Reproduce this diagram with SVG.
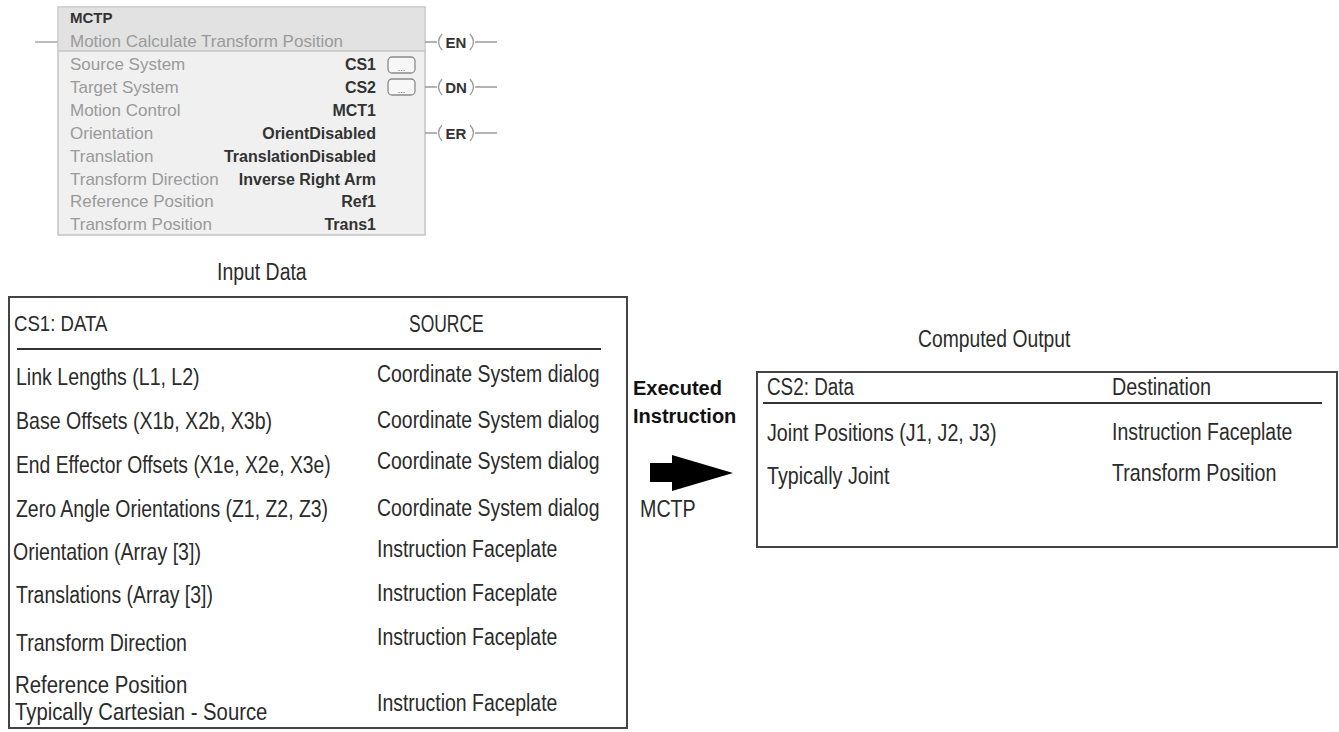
<svg xmlns="http://www.w3.org/2000/svg" width="1339" height="732" viewBox="0 0 1339 732">
<style>
.lbl{font-family:"Liberation Sans",Arial,sans-serif;font-size:17px;fill:#9a9a9a}
.val{font-family:"Liberation Sans",Arial,sans-serif;font-size:16px;font-weight:bold;fill:#333;text-anchor:end}
.coil{font-family:"Liberation Sans",Arial,sans-serif;font-size:15px;font-weight:bold;fill:#333;text-anchor:middle}
.cn{font-family:"Liberation Sans Narrow","Arial Narrow","Liberation Sans",Arial,sans-serif;font-size:24px;fill:#2b2b2b}
.hd{font-family:"Liberation Sans Narrow","Arial Narrow","Liberation Sans",Arial,sans-serif;font-size:23px;fill:#2b2b2b}
.bx{fill:#fff;stroke:#444;stroke-width:2}
.rule{stroke:#333;stroke-width:2}
.wire{stroke:#9a9a9a;stroke-width:1.3;fill:none}
.btn{fill:#f7f7f7;stroke:#8a8a8a;stroke-width:1.3}
.ex{font-family:"Liberation Sans",Arial,sans-serif;font-size:20px;font-weight:bold;fill:#111}
</style>
<rect width="1339" height="732" fill="#fff"/>

<g id="mctp-block">
  <line class="wire" x1="35" y1="42" x2="58" y2="42"/>
  <rect x="58" y="7" width="367" height="228" fill="#f0f0f0" stroke="#c4c4c4" stroke-width="1.5"/>
  <rect x="58.75" y="7.75" width="365.5" height="43.25" fill="#e2e2e2"/>
  <line x1="58" y1="51" x2="425" y2="51" stroke="#c4c4c4" stroke-width="1.5"/>
  <text x="70" y="23" font-family="Liberation Sans,Arial,sans-serif" font-size="15" font-weight="bold" fill="#333">MCTP</text>
  <text class="lbl" x="70" y="47">Motion Calculate Transform Position</text>
  <text class="lbl" x="70" y="70">Source System</text>
  <text class="lbl" x="70" y="93">Target System</text>
  <text class="lbl" x="70" y="116">Motion Control</text>
  <text class="lbl" x="70" y="139">Orientation</text>
  <text class="lbl" x="70" y="162">Translation</text>
  <text class="lbl" x="70" y="185">Transform Direction</text>
  <text class="lbl" x="70" y="207">Reference Position</text>
  <text class="lbl" x="70" y="230">Transform Position</text>
  <text class="val" x="376" y="70">CS1</text>
  <text class="val" x="376" y="93">CS2</text>
  <text class="val" x="376" y="116">MCT1</text>
  <text class="val" x="376" y="139">OrientDisabled</text>
  <text class="val" x="376" y="162">TranslationDisabled</text>
  <text class="val" x="376" y="185">Inverse Right Arm</text>
  <text class="val" x="376" y="207">Ref1</text>
  <text class="val" x="376" y="230">Trans1</text>
  <rect class="btn" x="388" y="57" width="27" height="16" rx="4"/>
  <text x="401.5" y="71" font-family="Liberation Sans,Arial,sans-serif" font-size="9" fill="#555" text-anchor="middle">...</text>
  <rect class="btn" x="388" y="79" width="27" height="16" rx="4"/>
  <text x="401.5" y="93" font-family="Liberation Sans,Arial,sans-serif" font-size="9" fill="#555" text-anchor="middle">...</text>
</g>

<g id="coil-en">
  <path class="wire" d="M425 42H437M442 34Q435 42 442 50M470 34Q477 42 470 50M475 42H497"/>
  <text class="coil" x="456" y="47.5">EN</text>
</g>
<g id="coil-dn">
  <path class="wire" d="M425 87H437M442 79Q435 87 442 95M470 79Q477 87 470 95M475 87H497"/>
  <text class="coil" x="456" y="92.5">DN</text>
</g>
<g id="coil-er">
  <path class="wire" d="M425 133H437M442 125Q435 133 442 141M470 125Q477 133 470 141M475 133H497"/>
  <text class="coil" x="456" y="138.5">ER</text>
</g>

<g id="input-data">
  <text class="cn" transform="translate(217 280) scale(0.81 1)">Input Data</text>
  <rect class="bx" x="9" y="297" width="618" height="431"/>
  <text class="hd" transform="translate(14 331) scale(0.81 1)">CS1: DATA</text>
  <text class="hd" transform="translate(409 332) scale(0.76 1)">SOURCE</text>
  <line class="rule" x1="17" y1="349" x2="601" y2="349"/>
  <text class="cn" transform="translate(16 385) scale(0.815 1)">Link Lengths (L1, L2)</text>
  <text class="cn" transform="translate(16 429) scale(0.815 1)">Base Offsets (X1b, X2b, X3b)</text>
  <text class="cn" transform="translate(16 473) scale(0.805 1)">End Effector Offsets (X1e, X2e, X3e)</text>
  <text class="cn" transform="translate(16 517) scale(0.81 1)">Zero Angle Orientations (Z1, Z2, Z3)</text>
  <text class="cn" transform="translate(13 560) scale(0.815 1)">Orientation (Array [3])</text>
  <text class="cn" transform="translate(16 603) scale(0.81 1)">Translations (Array [3])</text>
  <text class="cn" transform="translate(16 651) scale(0.815 1)">Transform Direction</text>
  <text class="cn" transform="translate(15 693) scale(0.85 1)" font-size="23">Reference Position</text>
  <text class="cn" transform="translate(15 720) scale(0.845 1)" font-size="23">Typically Cartesian - Source</text>
  <text class="cn" transform="translate(377 382) scale(0.81 1)">Coordinate System dialog</text>
  <text class="cn" transform="translate(377 428) scale(0.81 1)">Coordinate System dialog</text>
  <text class="cn" transform="translate(377 469) scale(0.81 1)">Coordinate System dialog</text>
  <text class="cn" transform="translate(377 516) scale(0.81 1)">Coordinate System dialog</text>
  <text class="cn" transform="translate(377 557) scale(0.81 1)">Instruction Faceplate</text>
  <text class="cn" transform="translate(377 601) scale(0.81 1)">Instruction Faceplate</text>
  <text class="cn" transform="translate(377 645) scale(0.81 1)">Instruction Faceplate</text>
  <text class="cn" transform="translate(377 711) scale(0.81 1)">Instruction Faceplate</text>
</g>

<g id="executed-instruction">
  <text class="ex" x="633" y="395">Executed</text>
  <text class="ex" x="633" y="423">Instruction</text>
  <polygon points="650,463 672,463 672,455 733,473 672,491 672,482 650,482" fill="#000"/>
  <text class="cn" transform="translate(640 517) scale(0.82 1)" font-size="22">MCTP</text>
</g>

<g id="computed-output">
  <text class="cn" transform="translate(918 347) scale(0.805 1)">Computed Output</text>
  <rect class="bx" x="757" y="372" width="580" height="175"/>
  <text class="hd" transform="translate(767 395) scale(0.82 1)">CS2: Data</text>
  <text class="hd" transform="translate(1112 395) scale(0.86 1)">Destination</text>
  <line class="rule" x1="763" y1="403" x2="1322" y2="403"/>
  <text class="cn" transform="translate(767 441) scale(0.82 1)">Joint Positions (J1, J2, J3)</text>
  <text class="cn" transform="translate(767 484) scale(0.82 1)">Typically Joint</text>
  <text class="cn" transform="translate(1112 440) scale(0.81 1)">Instruction Faceplate</text>
  <text class="cn" transform="translate(1112 481) scale(0.82 1)">Transform Position</text>
</g>
</svg>
